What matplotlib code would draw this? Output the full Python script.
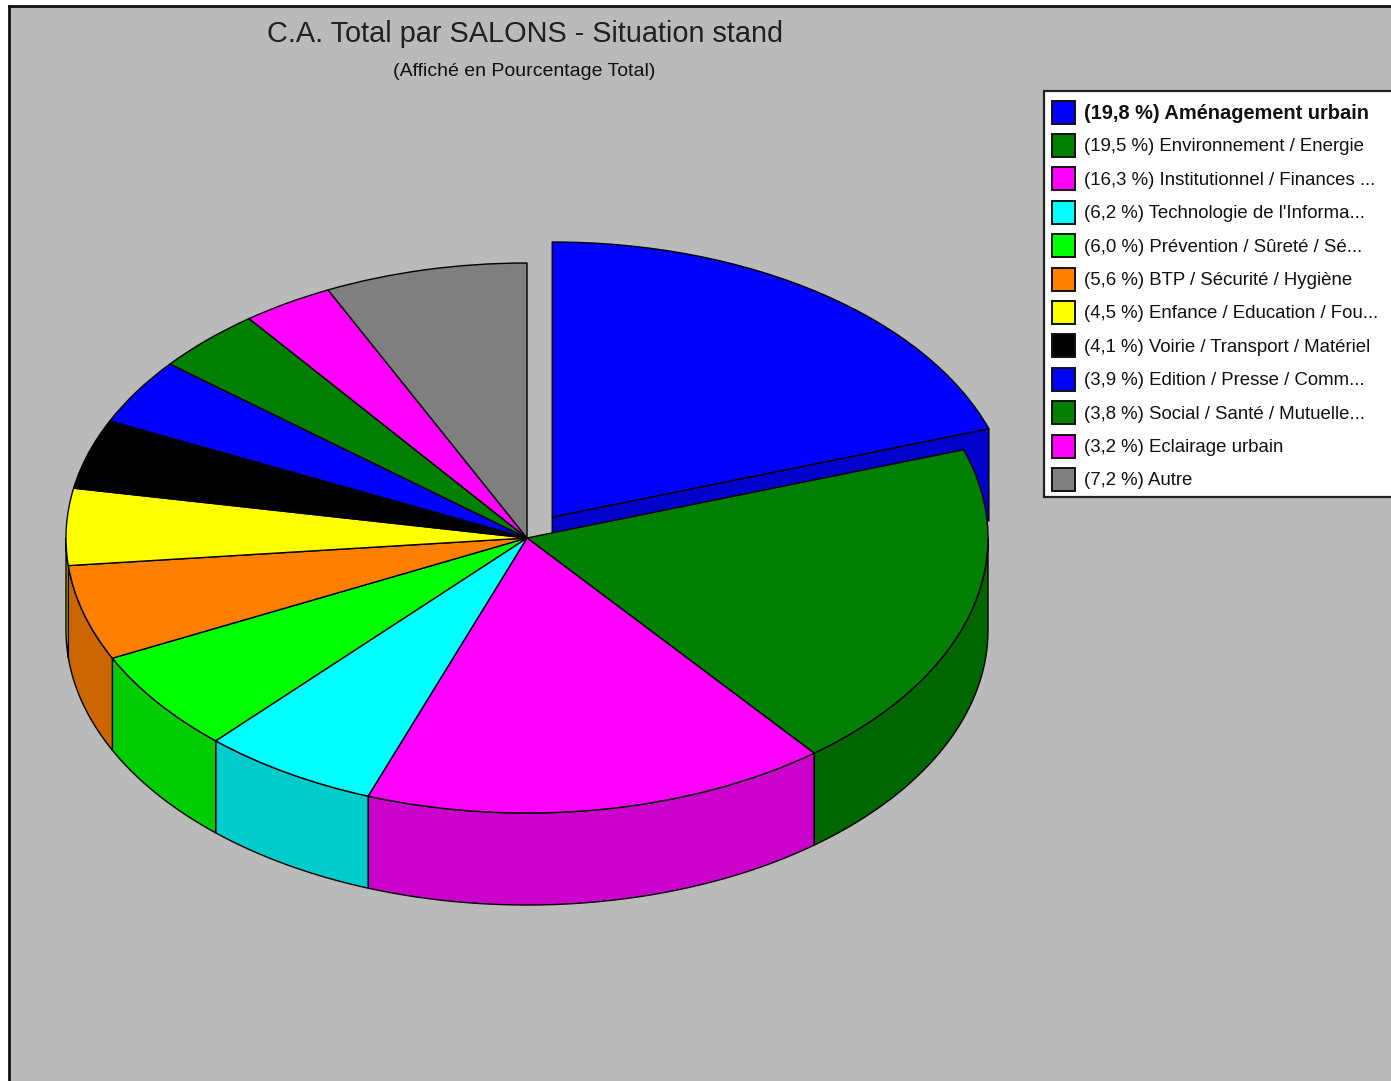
#!/usr/bin/env python3
# -*- coding: utf-8 -*-
import numpy as np
import matplotlib
matplotlib.use("Agg")
import matplotlib.pyplot as plt
from matplotlib.patches import Rectangle

plt.rcParams['font.family'] = ['Liberation Sans', 'DejaVu Sans']

# Data
# slice sizes as drawn: the printed labels add up to 100.1, the grey slice measures about 7.1
percent = [19.8, 19.5, 16.3, 6.2, 6.0, 5.6, 4.5, 4.1, 3.9, 3.8, 3.2, 7.1]
percent_labels = ["19,8", "19,5", "16,3", "6,2", "6,0", "5,6", "4,5", "4,1", "3,9", "3,8", "3,2", "7,2"]
names = ["Aménagement urbain", "Environnement / Energie", "Institutionnel / Finances ...",
         "Technologie de l'Informa...", "Prévention / Sûreté / Sé...", "BTP / Sécurité / Hygiène",
         "Enfance / Education / Fou...", "Voirie / Transport / Matériel", "Edition / Presse / Comm...",
         "Social / Santé / Mutuelle...", "Eclairage urbain", "Autre"]
explode = [0.094, 0, 0, 0, 0, 0, 0, 0, 0, 0, 0, 0]

top_colors = ["#0000ff", "#007f00", "#ff00ff", "#00ffff", "#00ff00", "#ff7f00",
              "#ffff00", "#000000", "#0000ff", "#007f00", "#ff00ff", "#7f7f7f"]
side_colors = ["#0000cc", "#006600", "#cc00cc", "#00cccc", "#00cc00", "#cc6600",
               "#cccc00", "#000000", "#0000cc", "#006600", "#cc00cc", "#666666"]

W, H = 1391, 1081
BG = "#bababa"

# Pie geometry, in pixels of the figure
cx, cy = 527., 538.
rx, ry = 461., 275.
depth = 92. / ry

fig = plt.figure(figsize=(W / 100., H / 100.), dpi=100, facecolor="white")

# Grey panel with its black border
bg = fig.add_axes([9. / W, 0, 1 - 9. / W, 1 - 6. / H], facecolor=BG)
bg.set_xticks([])
bg.set_yticks([])
bg.spines['right'].set_visible(False)
bg.spines['bottom'].set_visible(False)
bg.spines['top'].set_linewidth(2)
bg.spines['left'].set_linewidth(2)
bg.spines['top'].set_color("#111111")
bg.spines['left'].set_color("#111111")

# The pie: a normal pie stretched by unequal axis scales
ax = fig.add_axes([0, 0, 1, 1])
ax.pie(percent, colors=top_colors, startangle=90, counterclock=False, explode=explode,
       radius=1, wedgeprops=dict(edgecolor="black", linewidth=1.0, zorder=3))
ax.set_aspect('auto')
ax.set_xlim(-cx / rx, (W - cx) / rx)
ax.set_ylim((cy - H) / ry, cy / ry)
ax.patch.set_visible(False)

# Side walls for the front half of the pie
fractions = np.array(percent) / np.sum(percent)
ends = 90 - 360 * np.cumsum(fractions)
starts = np.r_[90, ends[:-1]]
for a0, a1, col in zip(starts, ends, side_colors):
    hi = min(a0, 0)
    lo = max(a1, -180)
    if hi <= lo:
        continue
    t = np.radians(np.linspace(hi, lo, 60))
    xs = np.r_[np.cos(t), np.cos(t[::-1])]
    ys = np.r_[np.sin(t), np.sin(t[::-1]) - depth]
    ax.fill(xs, ys, facecolor=col, edgecolor="black", linewidth=1.0, zorder=1)

# Cut face of the pulled out slice, the next slice hides most of it
mid = np.radians((starts[0] + ends[0]) / 2.)
ox, oy = explode[0] * np.cos(mid), explode[0] * np.sin(mid)
ex, ey = ox + np.cos(np.radians(ends[0])), oy + np.sin(np.radians(ends[0]))
ax.fill([ox, ex, ex, ox], [oy, ey, ey - depth, oy - depth], facecolor=side_colors[0],
        edgecolor="black", linewidth=1.0, zorder=2)

# Titles and legend, placed in pixels
px = fig.add_axes([0, 0, 1, 1])
px.set_xlim(0, W)
px.set_ylim(H, 0)
px.axis('off')

px.text(525.5, 33.5, "C.A. Total par SALONS - Situation stand", fontsize=20.8, color="#202020",
        ha='center', va='center')
px.text(524, 71.5, "(Affiché en Pourcentage Total)", fontsize=14, color="#101010",
        ha='center', va='center')

px.add_patch(Rectangle((1044, 91), W - 1044 + 5, 406, facecolor="white", edgecolor="#222222", linewidth=1.6))
for i, (p, name, col) in enumerate(zip(percent_labels, names, top_colors)):
    y = 112 + 33.4 * i
    px.add_patch(Rectangle((1052, y - 11.5), 23, 23, facecolor=col, edgecolor="#111111", linewidth=1.4))
    px.text(1084, y + 1.5, "(%s %%) %s" % (p, name), fontsize=14.45 if i == 0 else 13.45,
            color="#111111", ha='left', va='center', fontweight='bold' if i == 0 else 'normal')

fig.savefig("out.png", dpi=100)
plt.close(fig)
